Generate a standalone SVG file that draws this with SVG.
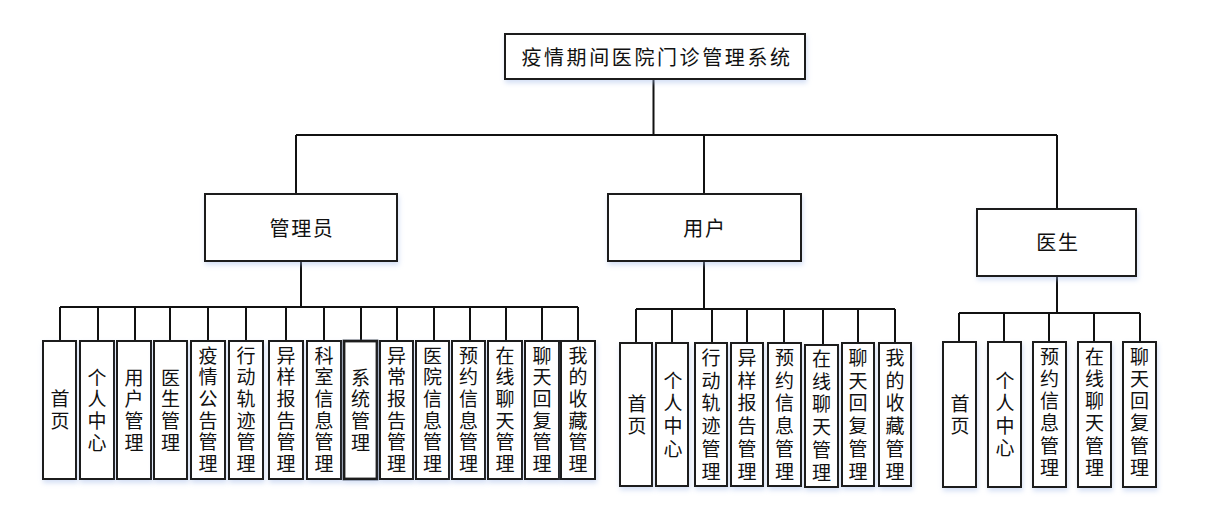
<svg xmlns="http://www.w3.org/2000/svg" width="1211" height="513" viewBox="0 0 1211 513">
<defs>
<filter id="glow" x="-20%" y="-20%" width="140%" height="140%">
<feDropShadow dx="1" dy="3" stdDeviation="2.5" flood-color="#9fb8e8" flood-opacity="0.45"/>
</filter>
<style>
.box{fill:#ffffff;stroke:#1a1a1a;stroke-width:2;filter:url(#glow);}
.thick{stroke-width:2.8;}
.ln{fill:none;stroke:#111;stroke-width:2;}
text{font-family:"Noto Sans CJK SC","Noto Sans CJK JP",sans-serif;fill:#111;}
.big{font-size:20px;letter-spacing:2.6px;text-anchor:middle;}
.mid{font-size:20px;letter-spacing:1.7px;text-anchor:middle;}
.leaf{font-size:19px;text-anchor:middle;}
</style>
</defs>
<rect width="1211" height="513" fill="#ffffff"/>
<g id="connectors">
<path class="ln" d="M653.5 79V135M296 135H1057M296 135V194M704 135V194M1057 135V209"/>
<path class="ln" d="M301 261V307M60 307H578M60 307V341M98 307V341M135 307V341M170 307V341M208 307V341M246 307V341M286 307V341M324 307V341M361 307V341M397 307V341M434 307V341M470 307V341M506 307V341M542 307V341M578 307V341"/>
<path class="ln" d="M704 261V309M636 309H895M636 309V343M672 309V343M712 309V343M747 309V343M784 309V343M823 309V345M858 309V343M895 309V343"/>
<path class="ln" d="M1057 276V313M959 313H1140M959 313V342M1004 313V342M1049 313V342M1094 313V342M1140 313V342"/>
</g>
<g id="root"><rect class="box" x="505" y="34" width="300" height="45"/><text class="big" x="657" y="65">疫情期间医院门诊管理系统</text></g>
<g id="admin"><rect class="box" x="205" y="194" width="192" height="67"/><text class="mid" x="302" y="236">管理员</text></g>
<g id="user"><rect class="box" x="608" y="194" width="193" height="67"/><text class="mid" x="705" y="236">用户</text></g>
<g id="doctor"><rect class="box" x="977" y="209" width="159" height="67"/><text class="mid" x="1058" y="250">医生</text></g>

<g id="a1"><rect class="box" x="43" y="341" width="33" height="138"/><text class="leaf" x="60" y="406"><tspan x="60">首</tspan><tspan x="60" dy="21.7">页</tspan></text></g>
<g id="a2"><rect class="box" x="80" y="341" width="34" height="138"/><text class="leaf" x="97" y="384.5"><tspan x="97">个</tspan><tspan x="97" dy="21.7">人</tspan><tspan x="97" dy="21.7">中</tspan><tspan x="97" dy="21.7">心</tspan></text></g>
<g id="a3"><rect class="box" x="117" y="341" width="34" height="138"/><text class="leaf" x="134" y="384.5"><tspan x="134">用</tspan><tspan x="134" dy="21.7">户</tspan><tspan x="134" dy="21.7">管</tspan><tspan x="134" dy="21.7">理</tspan></text></g>
<g id="a4"><rect class="box" x="154" y="341" width="33" height="138"/><text class="leaf" x="170.5" y="384.5"><tspan x="170.5">医</tspan><tspan x="170.5" dy="21.7">生</tspan><tspan x="170.5" dy="21.7">管</tspan><tspan x="170.5" dy="21.7">理</tspan></text></g>
<g id="a5"><rect class="box" x="191" y="341" width="34" height="138"/><text class="leaf" x="208" y="362.5"><tspan x="208">疫</tspan><tspan x="208" dy="21.7">情</tspan><tspan x="208" dy="21.7">公</tspan><tspan x="208" dy="21.7">告</tspan><tspan x="208" dy="21.7">管</tspan><tspan x="208" dy="21.7">理</tspan></text></g>
<g id="a6"><rect class="box" x="229" y="341" width="34" height="138"/><text class="leaf" x="246" y="362.5"><tspan x="246">行</tspan><tspan x="246" dy="21.7">动</tspan><tspan x="246" dy="21.7">轨</tspan><tspan x="246" dy="21.7">迹</tspan><tspan x="246" dy="21.7">管</tspan><tspan x="246" dy="21.7">理</tspan></text></g>
<g id="a7"><rect class="box" x="269" y="341" width="34" height="138"/><text class="leaf" x="286" y="362.5"><tspan x="286">异</tspan><tspan x="286" dy="21.7">样</tspan><tspan x="286" dy="21.7">报</tspan><tspan x="286" dy="21.7">告</tspan><tspan x="286" dy="21.7">管</tspan><tspan x="286" dy="21.7">理</tspan></text></g>
<g id="a8"><rect class="box" x="307" y="341" width="34" height="138"/><text class="leaf" x="324" y="362.5"><tspan x="324">科</tspan><tspan x="324" dy="21.7">室</tspan><tspan x="324" dy="21.7">信</tspan><tspan x="324" dy="21.7">息</tspan><tspan x="324" dy="21.7">管</tspan><tspan x="324" dy="21.7">理</tspan></text></g>
<g id="a9"><rect class="box thick" x="344" y="341" width="33" height="138"/><text class="leaf" x="360.5" y="384.5"><tspan x="360.5">系</tspan><tspan x="360.5" dy="21.7">统</tspan><tspan x="360.5" dy="21.7">管</tspan><tspan x="360.5" dy="21.7">理</tspan></text></g>
<g id="a10"><rect class="box" x="380" y="341" width="33" height="138"/><text class="leaf" x="396.5" y="362.5"><tspan x="396.5">异</tspan><tspan x="396.5" dy="21.7">常</tspan><tspan x="396.5" dy="21.7">报</tspan><tspan x="396.5" dy="21.7">告</tspan><tspan x="396.5" dy="21.7">管</tspan><tspan x="396.5" dy="21.7">理</tspan></text></g>
<g id="a11"><rect class="box" x="416" y="341" width="33" height="138"/><text class="leaf" x="432.5" y="362.5"><tspan x="432.5">医</tspan><tspan x="432.5" dy="21.7">院</tspan><tspan x="432.5" dy="21.7">信</tspan><tspan x="432.5" dy="21.7">息</tspan><tspan x="432.5" dy="21.7">管</tspan><tspan x="432.5" dy="21.7">理</tspan></text></g>
<g id="a12"><rect class="box" x="452" y="341" width="33" height="138"/><text class="leaf" x="468.5" y="362.5"><tspan x="468.5">预</tspan><tspan x="468.5" dy="21.7">约</tspan><tspan x="468.5" dy="21.7">信</tspan><tspan x="468.5" dy="21.7">息</tspan><tspan x="468.5" dy="21.7">管</tspan><tspan x="468.5" dy="21.7">理</tspan></text></g>
<g id="a13"><rect class="box" x="488" y="341" width="34" height="138"/><text class="leaf" x="505" y="362.5"><tspan x="505">在</tspan><tspan x="505" dy="21.7">线</tspan><tspan x="505" dy="21.7">聊</tspan><tspan x="505" dy="21.7">天</tspan><tspan x="505" dy="21.7">管</tspan><tspan x="505" dy="21.7">理</tspan></text></g>
<g id="a14"><rect class="box" x="525" y="341" width="34" height="138"/><text class="leaf" x="542" y="362.5"><tspan x="542">聊</tspan><tspan x="542" dy="21.7">天</tspan><tspan x="542" dy="21.7">回</tspan><tspan x="542" dy="21.7">复</tspan><tspan x="542" dy="21.7">管</tspan><tspan x="542" dy="21.7">理</tspan></text></g>
<g id="a15"><rect class="box" x="561" y="341" width="34" height="138"/><text class="leaf" x="578" y="362.5"><tspan x="578">我</tspan><tspan x="578" dy="21.7">的</tspan><tspan x="578" dy="21.7">收</tspan><tspan x="578" dy="21.7">藏</tspan><tspan x="578" dy="21.7">管</tspan><tspan x="578" dy="21.7">理</tspan></text></g>

<g id="u1"><rect class="box" x="620" y="343" width="32" height="143"/><text class="leaf" x="637" y="410.5"><tspan x="637">首</tspan><tspan x="637" dy="22.7">页</tspan></text></g>
<g id="u2"><rect class="box" x="656" y="343" width="32" height="143"/><text class="leaf" x="673" y="387.5"><tspan x="673">个</tspan><tspan x="673" dy="22.7">人</tspan><tspan x="673" dy="22.7">中</tspan><tspan x="673" dy="22.7">心</tspan></text></g>
<g id="u3"><rect class="box" x="695" y="343" width="32" height="143"/><text class="leaf" x="711" y="365"><tspan x="711">行</tspan><tspan x="711" dy="22.7">动</tspan><tspan x="711" dy="22.7">轨</tspan><tspan x="711" dy="22.7">迹</tspan><tspan x="711" dy="22.7">管</tspan><tspan x="711" dy="22.7">理</tspan></text></g>
<g id="u4"><rect class="box" x="731" y="343" width="32" height="143"/><text class="leaf" x="747" y="365"><tspan x="747">异</tspan><tspan x="747" dy="22.7">样</tspan><tspan x="747" dy="22.7">报</tspan><tspan x="747" dy="22.7">告</tspan><tspan x="747" dy="22.7">管</tspan><tspan x="747" dy="22.7">理</tspan></text></g>
<g id="u5"><rect class="box" x="768" y="343" width="33" height="143"/><text class="leaf" x="784.5" y="365"><tspan x="784.5">预</tspan><tspan x="784.5" dy="22.7">约</tspan><tspan x="784.5" dy="22.7">信</tspan><tspan x="784.5" dy="22.7">息</tspan><tspan x="784.5" dy="22.7">管</tspan><tspan x="784.5" dy="22.7">理</tspan></text></g>
<g id="u6"><rect class="box" x="805" y="345" width="33" height="142"/><text class="leaf" x="821.5" y="366"><tspan x="821.5">在</tspan><tspan x="821.5" dy="22.7">线</tspan><tspan x="821.5" dy="22.7">聊</tspan><tspan x="821.5" dy="22.7">天</tspan><tspan x="821.5" dy="22.7">管</tspan><tspan x="821.5" dy="22.7">理</tspan></text></g>
<g id="u7"><rect class="box" x="842" y="343" width="32" height="143"/><text class="leaf" x="858" y="365"><tspan x="858">聊</tspan><tspan x="858" dy="22.7">天</tspan><tspan x="858" dy="22.7">回</tspan><tspan x="858" dy="22.7">复</tspan><tspan x="858" dy="22.7">管</tspan><tspan x="858" dy="22.7">理</tspan></text></g>
<g id="u8"><rect class="box" x="879" y="343" width="32" height="143"/><text class="leaf" x="895" y="365"><tspan x="895">我</tspan><tspan x="895" dy="22.7">的</tspan><tspan x="895" dy="22.7">收</tspan><tspan x="895" dy="22.7">藏</tspan><tspan x="895" dy="22.7">管</tspan><tspan x="895" dy="22.7">理</tspan></text></g>

<g id="d1"><rect class="box" x="943" y="342" width="33" height="145"/><text class="leaf" x="960" y="410.5"><tspan x="960">首</tspan><tspan x="960" dy="22.3">页</tspan></text></g>
<g id="d2"><rect class="box" x="988" y="342" width="33" height="145"/><text class="leaf" x="1005" y="388"><tspan x="1005">个</tspan><tspan x="1005" dy="22.3">人</tspan><tspan x="1005" dy="22.3">中</tspan><tspan x="1005" dy="22.3">心</tspan></text></g>
<g id="d3"><rect class="box" x="1033" y="342" width="33" height="145"/><text class="leaf" x="1049.5" y="363.5"><tspan x="1049.5">预</tspan><tspan x="1049.5" dy="22.3">约</tspan><tspan x="1049.5" dy="22.3">信</tspan><tspan x="1049.5" dy="22.3">息</tspan><tspan x="1049.5" dy="22.3">管</tspan><tspan x="1049.5" dy="22.3">理</tspan></text></g>
<g id="d4"><rect class="box" x="1078" y="342" width="33" height="145"/><text class="leaf" x="1094.5" y="363.5"><tspan x="1094.5">在</tspan><tspan x="1094.5" dy="22.3">线</tspan><tspan x="1094.5" dy="22.3">聊</tspan><tspan x="1094.5" dy="22.3">天</tspan><tspan x="1094.5" dy="22.3">管</tspan><tspan x="1094.5" dy="22.3">理</tspan></text></g>
<g id="d5"><rect class="box" x="1123" y="342" width="33" height="145"/><text class="leaf" x="1139.5" y="363.5"><tspan x="1139.5">聊</tspan><tspan x="1139.5" dy="22.3">天</tspan><tspan x="1139.5" dy="22.3">回</tspan><tspan x="1139.5" dy="22.3">复</tspan><tspan x="1139.5" dy="22.3">管</tspan><tspan x="1139.5" dy="22.3">理</tspan></text></g>
</svg>
